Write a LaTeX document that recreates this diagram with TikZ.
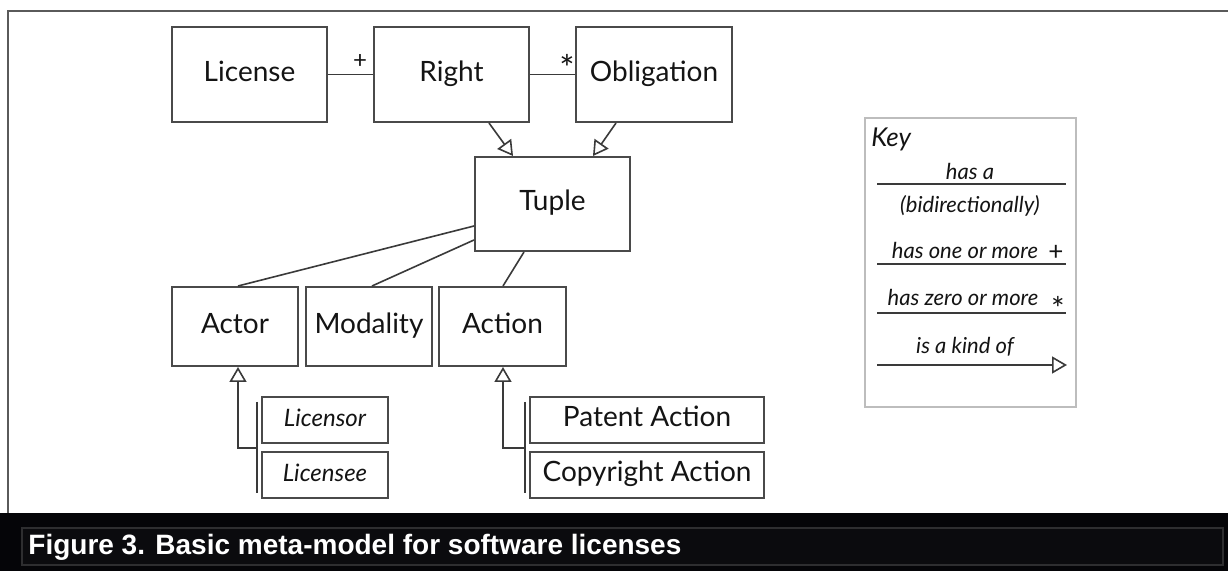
\documentclass[tikz,border=0pt]{standalone}
\usepackage{fontspec}
\setmainfont{Lato}
\newfontfamily\capfont{Liberation Sans}
\usetikzlibrary{arrows.meta,calc}
\definecolor{edgec}{HTML}{4A4A4A}
\definecolor{linec}{HTML}{3A3A3A}
\definecolor{framec}{HTML}{5A5A5A}
\definecolor{keyc}{HTML}{BDBDBD}
\definecolor{barc}{HTML}{050508}
\definecolor{stripc}{HTML}{0B0B0E}
\definecolor{stripe}{HTML}{2E2E30}
\definecolor{txt}{HTML}{141414}
\tikzset{
  umlbox/.style={draw=edgec, line width=1pt, fill=white, inner sep=0pt, text=txt,
    font=\fontsize{14}{16}\selectfont, text height=0.7em, text depth=0pt},
  subbox/.style={umlbox, minimum height=23pt},
  link/.style={draw=linec, line width=0.8pt},
  kindof/.style={link, -{Triangle[open, length=7.5pt, width=8.5pt, fill=white]}},
  keytext/.style={font=\fontsize{11}{13}\selectfont\itshape, text=txt, inner sep=0pt},
  mult/.style={font=\fontsize{12}{14}\selectfont, text=txt, inner sep=0pt},
  starmark/.style={font=\fontsize{18}{20}\selectfont, text=txt, inner sep=0pt},
}
\begin{document}
\begin{tikzpicture}[x=0.5pt, y=-0.5pt]
\useasboundingbox (0,0) rectangle (1228,571);
\fill[white] (0,0) rectangle (1228,571);
% outer frame
\draw[framec, line width=1pt] (8,513) -- (8,11) -- (1228,11);
% caption bar
\fill[barc] (0,513) rectangle (1228,571);
\draw[stripe, line width=0.75pt, fill=stripc] (22,528) rectangle (1223,565);
\node[anchor=west, inner sep=0pt, text=white, font=\capfont\bfseries\fontsize{14}{16}\selectfont] (cap) at (28,547) {Figure 3. Basic meta-model for software licenses};

% main boxes
\node[umlbox, minimum width=77.5pt, minimum height=47.5pt] (license) at (249.5,74.5) {License};
\node[umlbox, minimum width=77.5pt, minimum height=47.5pt] (right) at (451.5,74.5) {Right};
\node[umlbox, minimum width=78pt, minimum height=47.5pt] (oblig) at (654,74.5) {Obligation};
\node[umlbox, minimum width=77.5pt, minimum height=47pt] (tuple) at (552.5,204) {Tuple};
\node[umlbox, minimum width=63pt, minimum height=39.5pt] (actor) at (235,326.5) {Actor};
\node[umlbox, minimum width=63pt, minimum height=39.5pt] (modality) at (369,326.5) {Modality};
\node[umlbox, minimum width=63.5pt, minimum height=39.5pt] (action) at (502.5,326.5) {Action};
\node[subbox, minimum width=63pt, font=\fontsize{12}{14}\selectfont\itshape] (licensor) at (325,420) {Licensor};
\node[subbox, minimum width=63pt, font=\fontsize{12}{14}\selectfont\itshape] (licensee) at (325,475) {Licensee};
\node[subbox, minimum width=117pt] (patent) at (647,420) {Patent Action};
\node[subbox, minimum width=117pt] (copyright) at (647,475) {Copyright Action};

% has-a links
\draw[link] (license.east) -- (right.west);
\draw[link] (right.east) -- (oblig.west);
\node[mult] (plus) at (360,62) {+};
\node[starmark] (star) at (567,68) {*};

% kind-of arrows to Tuple
\draw[kindof] ($(right.south)+(37.5,0)$) -- ($(tuple.north)+(-39.5,0)$);
\draw[kindof] ($(oblig.south)+(-38,0)$) -- ($(tuple.north)+(40.5,0)$);

% Tuple links
\draw[link] ($(tuple.west)+(0,22)$) -- ($(actor.north)+(3,0)$);
\draw[link] ($(tuple.west)+(0,36)$) -- ($(modality.north)+(3,0)$);
\draw[link] ($(tuple.south)+(-28.5,0)$) -- ($(action.north)+(0.5,0)$);

% specialisation of Actor
\coordinate (abar) at (257,448);
\draw[link] (257,402) coordinate (abartop) -- (257,493) coordinate (abarbot);
\draw[kindof] (abar) -| ($(actor.south)+(3,0)$);
% specialisation of Action
\coordinate (cbar) at (525,448);
\draw[link] (525,402) coordinate (cbartop) -- (525,493) coordinate (cbarbot);
\draw[kindof] (cbar) -| ($(action.south)+(0.5,0)$);

% Key
\node[draw=keyc, line width=1pt, fill=white, minimum width=105.5pt, minimum height=144.5pt, inner sep=0pt] (keybox) at (970.5,262.5) {};
\node[anchor=west, inner sep=0pt, text=txt, font=\fontsize{13}{15}\selectfont\itshape] (keylbl) at (871,139) {Key};
\node[keytext] (k1) at (970,171) {has a};
\coordinate (l1a) at (877,184); \coordinate (l1b) at (1066,184);
\draw[link] (l1a) -- (l1b);
\node[keytext] (k2) at (970,206) {(bidirectionally)};
\node[keytext] (k3) at (965,250) {has one or more};
\node[mult, font=\fontsize{13}{15}\selectfont] (k3s) at (1056,253) {+};
\coordinate (l2a) at (877,264); \coordinate (l2b) at (1066,264);
\draw[link] (l2a) -- (l2b);
\node[keytext] (k4) at (963,297) {has zero or more};
\node[starmark, font=\fontsize{16}{18}\selectfont] (k4s) at (1058,308) {*};
\coordinate (l3a) at (877,313); \coordinate (l3b) at (1066,313);
\draw[link] (l3a) -- (l3b);
\node[keytext] (k5) at (965,347) {is a kind of};
\coordinate (l4a) at (877,365); \coordinate (l4b) at (1067,365);
\draw[kindof] (l4a) -- (l4b);
\end{tikzpicture}
\end{document}
